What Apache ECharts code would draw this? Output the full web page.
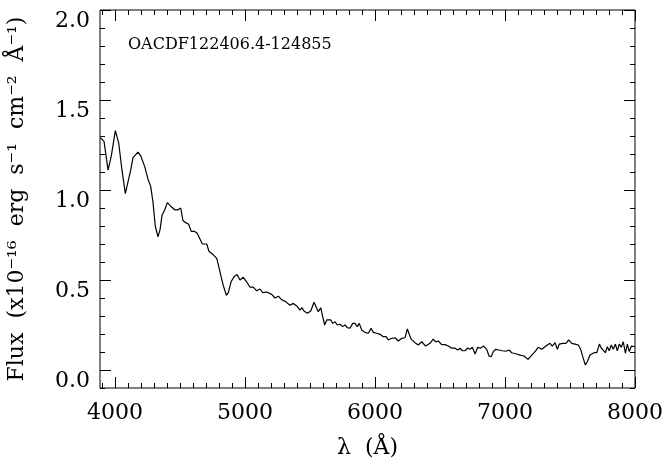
<!DOCTYPE html>
<html>
<head>
<meta charset="utf-8">
<script src="https://cdn.jsdelivr.net/npm/echarts@6/dist/echarts.min.js"></script>
<style>
  html, body { margin: 0; padding: 0; background: #fff; }
  #chart { width: 668px; height: 468px; }
</style>
</head>
<body>
<div id="chart"></div>
<script>
// spectrum: wavelength (A) and flux (1e-16 erg/s/cm2/A)
var lambda = [
  3890, 3916, 3947, 3972, 4003, 4029, 4054, 4080, 4095, 4121, 4139, 4152, 4177, 4198,
  4229, 4254, 4275, 4293, 4310, 4331, 4347, 4362, 4383, 4403, 4429, 4460, 4485, 4506,
  4523, 4541, 4567, 4587, 4613, 4633, 4647, 4672, 4706, 4723, 4757, 4783, 4800, 4816,
  4833, 4857, 4872, 4893, 4918, 4939, 4962, 4987, 5013, 5039, 5064, 5090, 5116, 5137,
  5167, 5180, 5206, 5231, 5257, 5283, 5313, 5346, 5372, 5398, 5423, 5439, 5454, 5480,
  5506, 5531, 5546, 5564, 5583, 5598, 5613, 5629, 5644, 5660, 5675, 5693, 5710, 5731,
  5752, 5770, 5787, 5808, 5829, 5846, 5864, 5879, 5898, 5923, 5949, 5970, 5987, 6013,
  6039, 6064, 6085, 6103, 6129, 6154, 6180, 6206, 6231, 6249, 6268, 6280, 6308, 6333,
  6359, 6390, 6423, 6448, 6467, 6487, 6513, 6539, 6564, 6590, 6616, 6637, 6654, 6672,
  6693, 6713, 6731, 6749, 6770, 6790, 6810, 6836, 6859, 6877, 6893, 6910, 6929, 6954,
  6980, 7006, 7031, 7052, 7067, 7090, 7116, 7146, 7177, 7206, 7231, 7256, 7283, 7308,
  7326, 7346, 7364, 7385, 7403, 7418, 7444, 7469, 7490, 7513, 7539, 7564, 7582, 7598,
  7618, 7633, 7654, 7669, 7685, 7706, 7726, 7741, 7756, 7772, 7787, 7802, 7818, 7833,
  7849, 7864, 7879, 7895, 7910, 7926, 7941, 7956, 7972, 7987, 8000
];
var flux = [
  1.29, 1.27, 1.11, 1.19, 1.33, 1.26, 1.11, 0.98, 0.99, 1.11, 1.18, 1.17, 1.21, 1.19,
  1.13, 1.06, 1.02, 0.93, 0.80, 0.74, 0.78, 0.86, 0.89, 0.93, 0.91, 0.89, 0.89, 0.90,
  0.83, 0.82, 0.81, 0.77, 0.77, 0.76, 0.75, 0.70, 0.70, 0.66, 0.64, 0.62, 0.57, 0.52,
  0.47, 0.415, 0.43, 0.49, 0.52, 0.53, 0.50, 0.515, 0.49, 0.46, 0.46, 0.44, 0.45, 0.43,
  0.433, 0.44, 0.42, 0.40, 0.41, 0.39, 0.38, 0.36, 0.37, 0.356, 0.333, 0.346, 0.328, 0.315,
  0.328, 0.376, 0.365, 0.324, 0.346, 0.296, 0.25, 0.278, 0.268, 0.278, 0.259, 0.268, 0.25, 0.254,
  0.241, 0.25, 0.235, 0.232, 0.259, 0.259, 0.241, 0.259, 0.222, 0.209, 0.204, 0.232, 0.209, 0.204,
  0.198, 0.185, 0.185, 0.167, 0.176, 0.179, 0.161, 0.176, 0.179, 0.228, 0.19, 0.17, 0.152, 0.139,
  0.157, 0.133, 0.148, 0.171, 0.156, 0.161, 0.141, 0.141, 0.133, 0.121, 0.121, 0.111, 0.121, 0.107,
  0.107, 0.122, 0.115, 0.126, 0.089, 0.126, 0.121, 0.133, 0.115, 0.078, 0.074, 0.102, 0.115, 0.111,
  0.107, 0.104, 0.111, 0.096, 0.102, 0.089, 0.083, 0.078, 0.059, 0.083, 0.102, 0.126, 0.115, 0.129,
  0.139, 0.148, 0.133, 0.152, 0.115, 0.144, 0.148, 0.148, 0.167, 0.148, 0.144, 0.139, 0.115, 0.074,
  0.028, 0.046, 0.083, 0.078, 0.096, 0.096, 0.144, 0.121, 0.129, 0.096, 0.129, 0.107, 0.139, 0.115,
  0.144, 0.107, 0.144, 0.126, 0.157, 0.093, 0.144, 0.102, 0.133, 0.144, 0.129
];

var xTicks = [4000, 5000, 6000, 7000, 8000];
var yTicks = [0.0, 0.5, 1.0, 1.5, 2.0];
var objName = 'OACDF122406.4-124855';

var xMinor = [];
for (var w = 3900; w <= 8000; w += 100) xMinor.push(w);
var yMinor = [];
for (var k = -1; k <= 20; k++) yMinor.push(k / 10);

var points = [];
for (var i = 0; i < lambda.length; i++) {
  points.push([lambda[i], flux[i]]);
}

var font = 'DejaVu Serif';
var black = '#000';

function xAx(pos, ticks, len, labels) {
  return {
    type: 'value', position: pos, min: 3885, max: 8000,
    axisLine: { show: false, onZero: false },
    splitLine: { show: false },
    axisTick: { show: true, inside: true, length: len, customValues: ticks,
      lineStyle: { color: black, width: 1 } },
    axisLabel: labels ? {
      show: true, customValues: ticks, color: black, fontFamily: font, fontSize: 22,
      margin: 14, showMinLabel: true, showMaxLabel: true,
      formatter: function (v) { return String(v); }
    } : { show: false }
  };
}

function yAx(pos, ticks, len, labels) {
  return {
    type: 'value', position: pos, min: -0.1, max: 2.0,
    axisLine: { show: false, onZero: false },
    splitLine: { show: false },
    axisTick: { show: true, inside: true, length: len, customValues: ticks,
      lineStyle: { color: black, width: 1 } },
    axisLabel: labels ? {
      show: true, customValues: ticks, color: black, fontFamily: font, fontSize: 22,
      margin: 10, verticalAlign: 'top', showMinLabel: true, showMaxLabel: true,
      formatter: function (v) { return v.toFixed(1); }
    } : { show: false }
  };
}

var chart = echarts.init(document.getElementById('chart'), null, { renderer: 'canvas' });

var xMain = xAx('bottom', xTicks, 11, true);
xMain.name = 'λ  (Å)';
xMain.nameLocation = 'middle';
xMain.nameGap = 49;
xMain.nameTextStyle = { color: black, fontFamily: font, fontSize: 22 };

var yMain = yAx('left', yTicks, 11, true);
yMain.name = 'Flux  (x10⁻¹⁶  erg  s⁻¹  cm⁻²  Å⁻¹)';
yMain.nameLocation = 'middle';
yMain.nameRotate = 90;
yMain.nameGap = 72;
yMain.nameTextStyle = { color: black, fontFamily: font, fontSize: 22 };

var option = {
  animation: false,
  backgroundColor: '#fff',
  grid: {
    left: 100, right: 33, top: 10, bottom: 80,
    outerBoundsMode: 'none',
    containLabel: false,
    show: true, borderColor: black, borderWidth: 1, backgroundColor: 'transparent'
  },
  xAxis: [
    xMain,
    xAx('bottom', xMinor, 5, false),
    xAx('top', xTicks, 11, false),
    xAx('top', xMinor, 5, false)
  ],
  yAxis: [
    yMain,
    yAx('left', yMinor, 5, false),
    yAx('right', yTicks, 11, false),
    yAx('right', yMinor, 5, false)
  ],
  graphic: [{
    type: 'text', left: 128, top: 37,
    style: { text: objName, fill: black, font: '16px "DejaVu Serif"' }
  }],
  series: [{
    type: 'line',
    xAxisIndex: 0, yAxisIndex: 0,
    data: points,
    showSymbol: false,
    symbol: 'none',
    clip: true,
    lineStyle: { color: black, width: 1.2 }
  }]
};

chart.setOption(option);
</script>
</body>
</html>
